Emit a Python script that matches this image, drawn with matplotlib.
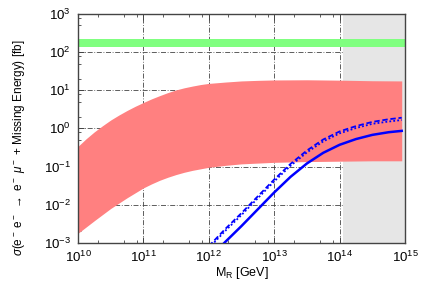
import numpy as np
import matplotlib
matplotlib.use("Agg")
import matplotlib.pyplot as plt
from matplotlib.ticker import LogLocator, NullFormatter

plt.rcParams['font.family'] = ['Liberation Sans', 'DejaVu Sans']
plt.rcParams['mathtext.fontset'] = 'custom'
plt.rcParams['mathtext.rm'] = 'Liberation Sans'
plt.rcParams['mathtext.it'] = 'Liberation Sans:italic'
plt.rcParams['mathtext.sf'] = 'Liberation Sans'

# ---- data (log10 values) ----
band_logm = [10.0, 10.125, 10.25, 10.375, 10.5, 10.625, 10.75, 10.875, 11.0, 11.125, 11.25,
             11.375, 11.5, 11.625, 11.75, 11.875, 12.0, 12.25, 12.5, 12.75, 13.0, 13.5, 14.0, 14.5, 14.95]
band_upper_log = [-0.47, -0.27, -0.09, 0.07, 0.22, 0.35, 0.47, 0.58, 0.68, 0.775, 0.86,
                  0.94, 1.01, 1.065, 1.11, 1.15, 1.18, 1.215, 1.245, 1.26, 1.27, 1.275, 1.265, 1.25, 1.245]
band_lower_log = [-2.75, -2.585, -2.42, -2.26, -2.10, -1.96, -1.82, -1.69, -1.56, -1.455, -1.36,
                  -1.28, -1.21, -1.15, -1.10, -1.06, -1.02, -0.97, -0.93, -0.91, -0.89, -0.87, -0.86, -0.85, -0.85]

solid_logm = [12.0, 12.25, 12.5, 12.75, 13.0, 13.25, 13.5, 13.75, 14.0, 14.25, 14.5, 14.75, 14.95]
solid_log = [-3.43, -2.98, -2.56, -2.12, -1.68, -1.27, -0.92, -0.64, -0.43, -0.28, -0.17, -0.10, -0.065]
dashed_log = [-3.09, -2.64, -2.22, -1.78, -1.34, -0.93, -0.58, -0.29, -0.08, 0.06, 0.17, 0.24, 0.28]
dotted_log = [-3.14, -2.69, -2.27, -1.83, -1.39, -0.98, -0.63, -0.34, -0.13, 0.01, 0.12, 0.18, 0.22]

green_band = [137, 218]          # fb
excluded_mr = [1.12e14, 1e15]    # GeV

xlim = [1e10, 1e15]
ylim = [1e-3, 1e3]

fig = plt.figure(figsize=(4.25, 2.97), dpi=100)
ax = fig.add_axes([78/425, 1-242.8/297, (405-78)/425, (242.8-14)/297])
ax.set_xscale('log')
ax.set_yscale('log')
ax.set_xlim(*xlim)
ax.set_ylim(*ylim)

ax.axvspan(excluded_mr[0], excluded_mr[1], color='#e6e6e6', lw=0, zorder=1)
ax.axhspan(green_band[0], green_band[1], color='#80ff80', lw=0, zorder=2)

bm = 10.0 ** np.array(band_logm)
ax.fill_between(bm, 10.0 ** np.array(band_lower_log), 10.0 ** np.array(band_upper_log),
                color='#ff8080', lw=0, zorder=2)

sm = 10.0 ** np.array(solid_logm)
ax.plot(sm, 10.0 ** np.array(solid_log), color='#0000ff', lw=1.8, zorder=4)
ax.plot(sm, 10.0 ** np.array(dashed_log), color='#0000ff', lw=1.3, ls=(0, (3, 1.5)), zorder=4)
ax.plot(sm, 10.0 ** np.array(dotted_log), color='#0000ff', lw=1.3, ls=(0, (1, 1.2)), zorder=4)

ax.set_axisbelow(True)
ax.grid(True, which='major', color='#444444', lw=0.6, ls=(0, (6, 2, 1, 2)))

for a in (ax.xaxis, ax.yaxis):
    a.set_major_locator(LogLocator(base=10, numticks=10))
    a.set_minor_locator(LogLocator(base=10, subs=(2, 5, 8), numticks=10))
    a.set_minor_formatter(NullFormatter())

ax.tick_params(which='both', direction='in', top=True, right=True, color='#444444', labelsize=9.5)
ax.tick_params(which='major', length=4, width=0.7)
ax.tick_params(which='minor', length=2.5, width=0.6)
ax.tick_params(axis='y', pad=5)
ax.tick_params(axis='x', pad=5)
for s in ax.spines.values():
    s.set_color('#444444')
    s.set_linewidth(1.0)

fig.text(241.5/425, 1-273/297, r'M$_{\mathrm{R}}$ [GeV]', ha='center', va='center', fontsize=9)
fig.text(19/425, 1-148/297, r'$\sigma$(e$^-$ e$^-$ $\rightarrow$ e$^-$ $\mu^-$ + Missing Energy) [fb]',
         ha='center', va='center', rotation=90, fontsize=8.5)

fig.savefig('out.png', dpi=100)
